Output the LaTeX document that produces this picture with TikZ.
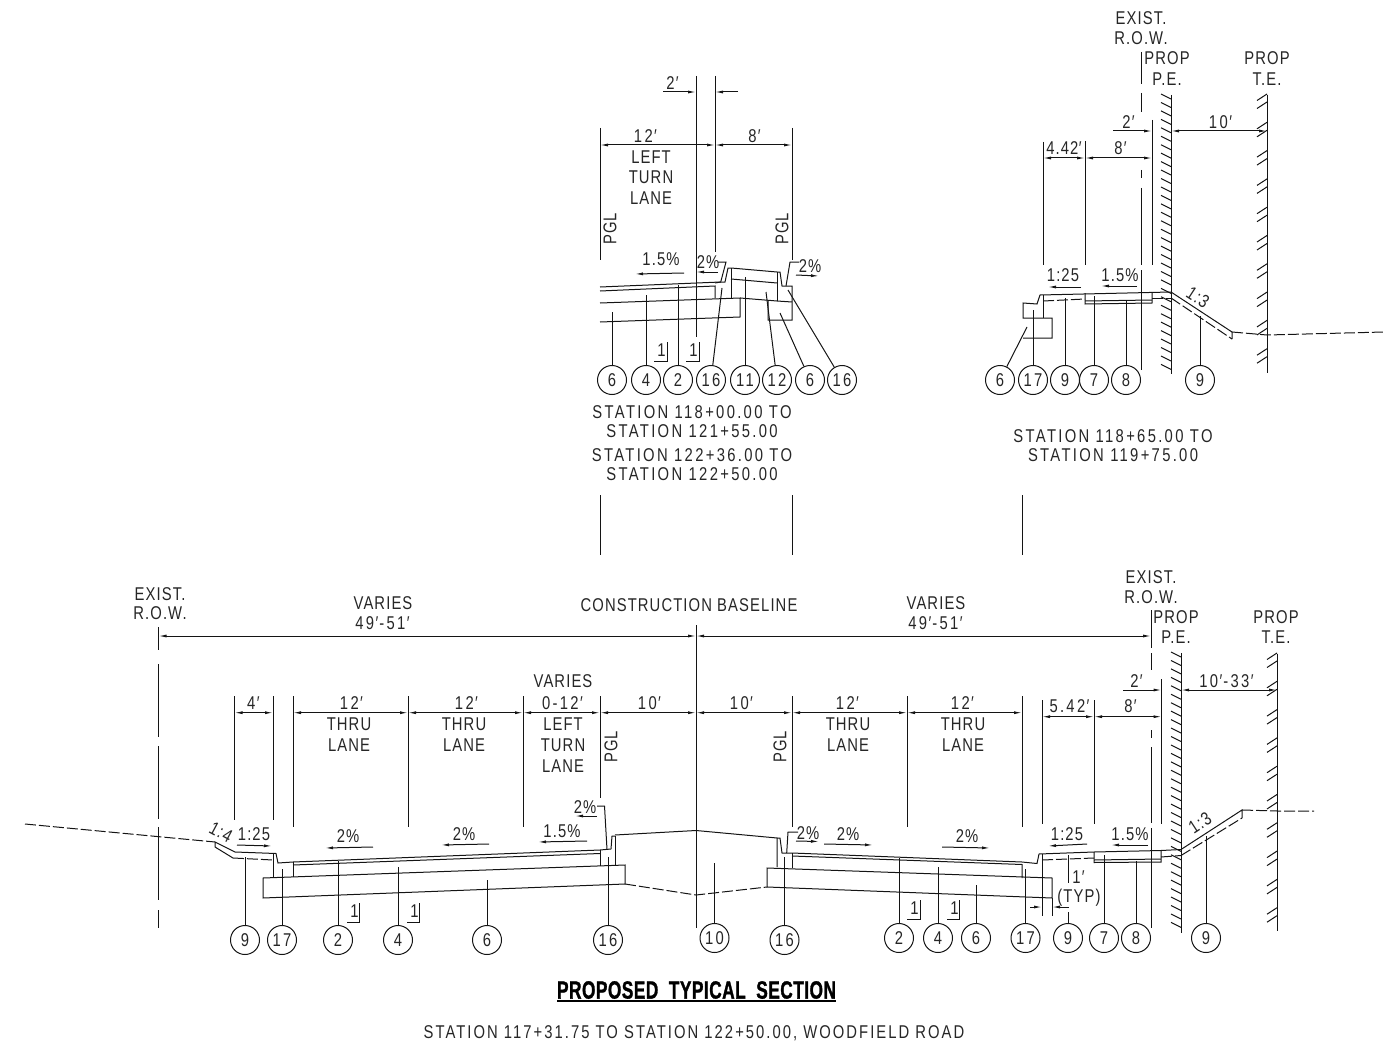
\documentclass[tikz,border=0pt]{standalone}
\usepackage{fontspec}
\usetikzlibrary{arrows.meta}
\setmainfont[FakeStretch=.8,LetterSpace=6,Ligatures=NoCommon]{Liberation Sans}
\newfontfamily\numfont[FakeStretch=.8,LetterSpace=12.5,Ligatures=NoCommon]{Liberation Sans}
\newfontfamily\longfont[FakeStretch=.8,LetterSpace=11,Ligatures=NoCommon]{Liberation Sans}
\newfontfamily\ttlfont[FakeStretch=.69,LetterSpace=2,FakeBold=1.2]{Liberation Sans Bold}
\newcommand{\ft}{\kern1.5pt′\kern1pt}
\tikzset{
  ln/.style={line width=1pt,draw=black!92,line cap=butt},
  dsh/.style={ln,dash pattern=on 11pt off 3pt},
  dm/.style={ln,{Latex[length=8pt,width=3pt]}-{Latex[length=8pt,width=3pt]}},
  ar/.style={ln,-{Latex[length=8pt,width=3pt]}},
  lbl/.style={inner sep=0pt,outer sep=0pt,font=\fontsize{18.5}{20}\selectfont,text=black!85,align=center},
  lbn/.style={lbl,font=\numfont\fontsize{18.5}{20}\selectfont},
  cir/.style={circle,draw=black!92,line width=1pt,minimum size=29pt,inner sep=0pt,font=\numfont\fontsize{18.5}{20}\selectfont,text=black!85},
}
% callout bubble with a leader to a named free end
\newcommand{\callout}[6]{%
  \node[cir] (#1) at (#2,#3) {#4};
  \coordinate (#1e) at (#5,#6);
  \draw[ln] (#1) -- (#1e);}
% the small "1" with its corner mark
\newcommand{\oneL}[3]{%
  \node[lbl] at (#1+4.5,#2-11) {1};
  \draw[ln] (#1-3,#2) -- (#1+#3,#2) -- (#1+#3,#2-19);}
\newcommand{\hatchPE}[3]{%
  \draw[ln] (#1,#2) -- (#1,#3);
  \foreach \yy in {0,...,32} {\draw[ln] (#1-10,#2+\yy*8.45-1) -- (#1,#2+\yy*8.45+4);}}
\newcommand{\hatchTE}[2]{%
  \foreach \yy in {0,...,9} {
    \draw[ln] (#1-10,#2+\yy*28.3+3.5) -- (#1,#2+\yy*28.3-3);
    \draw[ln] (#1-10,#2+\yy*28.3+11.5) -- (#1,#2+\yy*28.3+5);}}
\begin{document}
\begin{tikzpicture}[x=1pt,y=-1pt]
\useasboundingbox (0,0) rectangle (1384,1043);
%%%%%%%%%% UPPER MIDDLE
\draw[ln] (696,76) -- (696,337);
\draw[ln] (715,76) -- (715,252);
\draw[ln] (600,128) -- (600,260);
\draw[ln] (792,128) -- (792,260);
\draw[ar] (663,92) -- (696,92);
\draw[ar] (738,92) -- (715,92);
\draw[dm] (600,145) -- (715,145);
\draw[dm] (715,145) -- (792,145);
\node[lbn] at (673,83) {2\ft};
\node[lbn] at (646,136) {12\ft};
\node[lbn] at (755,136) {8\ft};
\node[lbl] at (651,157) {LEFT};
\node[lbl] at (651,177) {TURN};
\node[lbl] at (651,198) {LANE};
\node[lbl,rotate=90] at (610,229) {PGL};
\node[lbl,rotate=90] at (782,229) {PGL};
\node[lbl] at (661,259) {1.5\%};
\draw[ar] (684,273) -- (635,274);
\node[lbl] at (708,262) {2\%};
\draw[ar] (718,272) -- (696,272);
\draw[ln] (718,262) -- (726,262) -- (720.7,282);
\node[lbl] at (810,266) {2\%};
\draw[ar] (796,275) -- (819,276);
\draw[ln] (799,262) -- (790,262) -- (786,286);
% pavement
\draw[ln] (600,287) -- (720.7,282) -- (725,282) -- (728,268) -- (731,268) -- (777,272) -- (780,272) -- (782,286) -- (792,286) -- (792,320) -- (768,320) -- (768,301);
\draw[ln] (600,291) -- (715,286) -- (715,298);
\draw[ln] (600,303) -- (740,298) -- (740,317) -- (600,322);
\draw[ln] (715,283) -- (720.7,282);
\draw[ln] (731,268) -- (731,298);
\draw[ln] (731,279) -- (777,283);
\draw[ln] (740,298) -- (777,301) -- (792,302);
\draw[ln] (777,272) -- (777,301);
\callout{a1}{612}{380}{6}{612}{312}
\callout{a2}{646}{380}{4}{646}{295}
\callout{a3}{678}{380}{2}{678}{285}
\callout{a4}{711}{380}{16}{722}{288}
\callout{a5}{745}{380}{11}{745}{277}
\callout{a6}{777}{380}{12}{766}{292}
\callout{a7}{810}{380}{6}{780}{313}
\callout{a8}{842}{380}{16}{788}{290}
\oneL{657}{361}{10}
\oneL{689}{361}{10}
\node[lbn] at (692,412) {STATION 118+00.00 TO};
\node[lbn] at (692,431) {STATION 121+55.00};
\node[lbn] at (692,455) {STATION 122+36.00 TO};
\node[lbn] at (692,474) {STATION 122+50.00};
\draw[ln] (600,495) -- (600,555);
\draw[ln] (792,495) -- (792,555);
\draw[ln] (1022,495) -- (1022,555);
%%%%%%%%%% UPPER RIGHT
\node[lbl] at (1141,18) {EXIST.};
\node[lbl] at (1141,38) {R.O.W.};
\node[lbl] at (1167,58) {PROP};
\node[lbl] at (1167,79) {P.E.};
\node[lbl] at (1267,58) {PROP};
\node[lbl] at (1267,79) {T.E.};
\foreach \a/\b in {52/84,93/112,170/178,188/265,270/370} \draw[ln] (1141,\a) -- (1141,\b);
\hatchPE{1171}{95}{374}
\draw[ln] (1267,95) -- (1267,373);
\hatchTE{1267}{97}
\draw[ln] (1152,120) -- (1152,265);
\draw[ln] (1043,142) -- (1043,265);
\draw[ln] (1085,141) -- (1085,265);
\draw[ar] (1113,131) -- (1152,131);
\draw[dm] (1171,131) -- (1267,131);
\draw[dm] (1043,158) -- (1085,158);
\draw[dm] (1085,158) -- (1152,158);
\node[lbn] at (1129,122) {2\ft};
\node[lbn] at (1221,122) {10\ft};
\node[lbl] at (1064,148) {4.42\kern.5pt′};
\node[lbn] at (1121,148) {8\ft};
\node[lbl] at (1063,275) {1:25};
\draw[ar] (1081,287) -- (1048,287);
\node[lbl] at (1120,275) {1.5\%};
\draw[ar] (1137,286) -- (1101,286);
\draw[ln] (1171,292) -- (1040,295) -- (1037,304) -- (1023,303) -- (1023,318) -- (1052,318) -- (1052,338) -- (1023,338);
\draw[ln] (1043,295) -- (1043,318);
\draw[dsh] (1043,301) -- (1085,299);
\draw[ln] (1085,293) -- (1085,304) -- (1152,303) -- (1152,292);
\draw[ln] (1085,301) -- (1152,300);
\draw[dsh] (1152,298) -- (1171,298);
\draw[ln] (1171,292) -- (1232,332) -- (1232,339);
\draw[dsh] (1171,298) -- (1232,339);
\draw[dsh] (1232,332) -- (1267,335) -- (1384,332);
\node[lbl,rotate=-33] at (1198,297) {1:3};
\callout{b1}{1000}{380}{6}{1027}{327}
\callout{b2}{1033}{380}{17}{1033}{310}
\callout{b3}{1065}{380}{9}{1065}{298}
\callout{b4}{1094}{380}{7}{1094}{296}
\callout{b5}{1126}{380}{8}{1126}{301}
\callout{b6}{1200}{380}{9}{1200}{316}
\node[lbn] at (1113,436) {STATION 118+65.00 TO};
\node[lbn] at (1113,455) {STATION 119+75.00};
%%%%%%%%%% MAIN SECTION
\node[lbl] at (160,594) {EXIST.};
\node[lbl] at (160,613) {R.O.W.};
\node[lbl] at (383,603) {VARIES};
\node[lbn] at (383,623) {49\ft-51\ft};
\node[lbl] at (689,605) {CONSTRUCTION BASELINE};
\node[lbl] at (936,603) {VARIES};
\node[lbn] at (936,623) {49\ft-51\ft};
\node[lbl] at (1151,577) {EXIST.};
\node[lbl] at (1151,597) {R.O.W.};
\node[lbl] at (1176,617) {PROP};
\node[lbl] at (1176,637) {P.E.};
\node[lbl] at (1276,617) {PROP};
\node[lbl] at (1276,637) {T.E.};
\foreach \a/\b in {627/650,664/737,746/819,827/900,910/928} \draw[ln] (158.5,\a) -- (158.5,\b);
\foreach \a/\b in {610/648,653/670,730/738,747/823,828/928} \draw[ln] (1151,\a) -- (1151,\b);
\draw[ln] (696,625) -- (696,928);
\draw[dm] (158.5,636) -- (696,636);
\draw[dm] (696,636) -- (1151,636);
\hatchPE{1181}{653}{933}
\draw[ln] (1277,654) -- (1277,931);
\hatchTE{1277}{656}
% dimension witnesses
\foreach \xx/\a/\b in {234.5/696/820,273/696/820,293/696/827,408/696/827,523/696/827,600/696/798,792/696/827,907/696/827,1022/696/827,1042/700/824,1094/700/824,1161.5/679/824} \draw[ln] (\xx,\a) -- (\xx,\b);
\foreach \p/\q in {234.5/273,293/408,408/523,523/600,600/696,696/792,792/907,907/1022} \draw[dm] (\p,712.7) -- (\q,712.7);
\draw[dm] (1042,716.7) -- (1094,716.7);
\draw[dm] (1094,716.7) -- (1161.5,716.7);
\draw[ar] (1123,690) -- (1161.5,690);
\draw[dm] (1181,690) -- (1277,690);
\node[lbn] at (1137,681) {2\ft};
\node[lbn] at (1227,681) {10\ft-33\ft};
\node[lbn] at (1070,706) {5.42\ft};
\node[lbn] at (1131,706) {8\ft};
\node[lbn] at (254,703) {4\ft};
\node[lbn] at (352,703) {12\ft};
\node[lbn] at (467,703) {12\ft};
\node[lbl] at (563,681) {VARIES};
\node[lbn] at (563,703) {0-12\ft};
\node[lbn] at (650,703) {10\ft};
\node[lbn] at (742,703) {10\ft};
\node[lbn] at (848,703) {12\ft};
\node[lbn] at (963,703) {12\ft};
\foreach \xx in {349,464,848,963} {\node[lbl] at (\xx,724) {THRU}; \node[lbl] at (\xx,745) {LANE};}
\node[lbl] at (563,724) {LEFT};
\node[lbl] at (563,745) {TURN};
\node[lbl] at (563,766) {LANE};
\node[lbl,rotate=90] at (611,747) {PGL};
\node[lbl,rotate=90] at (780,747) {PGL};
% slope labels
\node[lbl,rotate=-28] at (221,832) {1:4};
\node[lbl] at (254,834) {1:25};
\draw[ar] (237,845) -- (272,846);
\node[lbl] at (348,836) {2\%};
\draw[ar] (373,847) -- (325,848);
\node[lbl] at (464,834) {2\%};
\draw[ar] (489,844) -- (441,845);
\node[lbl] at (562,831) {1.5\%};
\draw[ar] (587,841) -- (538,842);
\node[lbl] at (585,807) {2\%};
\draw[ar] (597,816) -- (575,816);
\draw[ln] (597,806) -- (604.5,806) -- (607,849.5);
\node[lbl] at (808,833) {2\%};
\draw[ar] (796,841) -- (819,841.5);
\draw[ln] (798,832) -- (788,832) -- (786.7,853);
\node[lbl] at (848,834) {2\%};
\draw[ar] (824,844) -- (873,845);
\node[lbl] at (967,836) {2\%};
\draw[ar] (942,847) -- (990,848);
\node[lbl] at (1067,834) {1:25};
\draw[ar] (1087,844) -- (1048,846);
\node[lbl] at (1130,834) {1.5\%};
\draw[ar] (1148,845) -- (1111,845);
\node[lbl,rotate=33] at (1200,823) {1:3};
% left ground and surface
\draw[dsh] (25,824) -- (215,842);
\draw[ln] (215,847) -- (215,842) -- (235,852) -- (276,853.5) -- (278,863) -- (293,862) -- (600,850) -- (611,849);
\draw[ln] (215,847) -- (233,858);
\draw[dsh] (233,858) -- (273,860);
\draw[ln] (293,865) -- (600,853.5);
\draw[ln] (273,853) -- (273,878);
\draw[ln] (293,862) -- (293,877);
\draw[ln] (263,878) -- (625,865) -- (625,884) -- (263,898) -- cycle;
\draw[ln] (600,850) -- (600,866);
\draw[ln] (611,849) -- (612,836) -- (615,836);
\draw[ln] (615,836) -- (615,866);
\draw[ln] (615,835) -- (696,830.5) -- (777,838) -- (777,867);
\draw[dsh] (625,884) -- (696,895) -- (767,887);
% right surface
\draw[ln] (777,838) -- (780,838) -- (782,853) -- (792,853) -- (1022,862) -- (1037,863.5) -- (1039,854) -- (1094,852) -- (1161,850.5) -- (1181,849.5) -- (1242,810) -- (1242,818);
\draw[ln] (792,853) -- (792,868);
\draw[ln] (792,856) -- (1022,864.5) -- (1022,878);
\draw[ln] (767,868) -- (1052,878) -- (1052,898) -- (767,887) -- cycle;
\draw[ln] (1042,854) -- (1042,878);
\draw[dsh] (1042,860) -- (1094,858);
\draw[ln] (1094,852) -- (1094,862.5) -- (1161,862) -- (1161,850);
\draw[ln] (1094,860) -- (1161,859);
\draw[dsh] (1161,857) -- (1181,855.5);
\draw[dsh] (1181,855.5) -- (1242,818);
\draw[dsh] (1242,810) -- (1277,811) -- (1314,811);
% 1' typ
\node[lbn] at (1079,877) {1\ft};
\node[lbl] at (1079,898) {(TYP)};
\draw[ln] (1068,855) -- (1068,883);
\draw[ln] (1042,878) -- (1042,916);
\draw[ln] (1052,898) -- (1052,916);
\draw[ar] (1030,907) -- (1042,907);
\draw[ar] (1069,907) -- (1052,907);
% callouts
\callout{c1}{245}{940}{9}{245}{857}
\callout{c2}{282}{940}{17}{282}{869}
\callout{c3}{338}{940}{2}{338}{861}
\callout{c4}{398}{940}{4}{398}{867}
\callout{c5}{487}{940}{6}{487}{880}
\callout{c6}{608}{940}{16}{608}{857}
\callout{c7}{714.5}{938}{10}{714.5}{863}
\callout{c8}{784.5}{940}{16}{784.5}{857}
\callout{c9}{899}{938}{2}{899}{858}
\callout{c10}{938}{938}{4}{938}{867}
\callout{c11}{976}{938}{6}{976}{885}
\callout{c12}{1025.5}{938}{17}{1025.5}{869}
\callout{c13}{1068}{938}{9}{1068}{912}
\callout{c14}{1104}{938}{7}{1104}{855}
\callout{c15}{1136}{938}{8}{1136}{861}
\callout{c16}{1206}{938}{9}{1206}{836}
\oneL{350}{922}{9}
\oneL{410}{922}{9}
\oneL{910}{919}{10}
\oneL{950}{919}{9}
% title
\node[inner sep=0pt,text=black] (title) at (696.5,990) {\fontsize{25}{27}\selectfont\ttlfont PROPOSED\ \ TYPICAL\ \ SECTION};
\draw[line width=1.6pt,black] (557,1001) -- (836,1001);
\node[lbl,font=\longfont\fontsize{18.5}{20}\selectfont] at (694,1033) {STATION 117+31.75 TO STATION 122+50.00, WOODFIELD ROAD};
\end{tikzpicture}
\end{document}
